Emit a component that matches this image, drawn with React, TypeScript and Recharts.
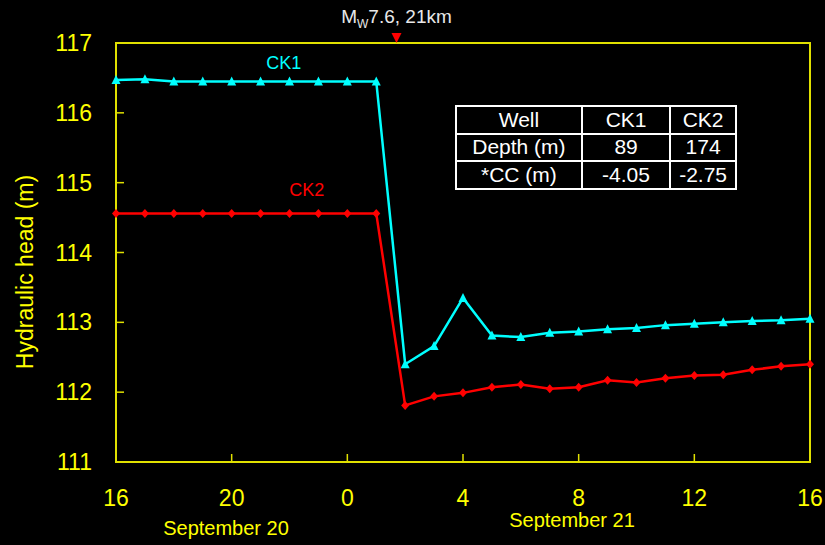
import { LineChart, Line, XAxis, YAxis, ReferenceArea, ReferenceDot } from "recharts";

// hours since 16:00 on September 20
const hours = [0, 1, 2, 3, 4, 5, 6, 7, 8, 9, 10, 11, 12, 13, 14, 15, 16, 17, 18, 19, 20, 21, 22, 23, 24];
const ck1 = [116.47, 116.48, 116.45, 116.45, 116.45, 116.45, 116.45, 116.45, 116.45, 116.45, 112.4, 112.66, 113.35, 112.81, 112.79, 112.85, 112.87, 112.9, 112.92, 112.96, 112.98, 113.0, 113.02, 113.03, 113.05];
const ck2 = [114.56, 114.56, 114.56, 114.56, 114.56, 114.56, 114.56, 114.56, 114.56, 114.56, 111.81, 111.94, 111.99, 112.07, 112.11, 112.05, 112.07, 112.17, 112.14, 112.2, 112.24, 112.25, 112.32, 112.37, 112.4];
const xTicks = [0, 4, 8, 12, 16, 20, 24];
const yTicks = [111, 112, 113, 114, 115, 116, 117];
const quakeHour = 9.7;
const tableRows = [
  ["Well", "CK1", "CK2"],
  ["Depth (m)", "89", "174"],
  ["*CC (m)", "-4.05", "-2.75"],
];

const data = hours.map((h, i) => ({ h, ck1: ck1[i], ck2: ck2[i] }));

const YELLOW = "#ffff00";
const AXIS = "#e0e000";
const FONT = "'Liberation Sans', Arial, sans-serif";
const PLOT_LEFT = 116;
const PLOT_BOTTOM = 462;

const YTick = ({ y, payload }: any) => (
  <g>
    <line x1={PLOT_LEFT} x2={PLOT_LEFT + 8} y1={y} y2={y} stroke={AXIS} strokeWidth={1.5} />
    <text x={92} y={y} textAnchor="end" dominantBaseline="central" fill={YELLOW} fontSize={23} fontFamily={FONT}>
      {payload.value}
    </text>
  </g>
);

const XTick = ({ x, payload }: any) => (
  <g>
    <line x1={x} x2={x} y1={PLOT_BOTTOM} y2={PLOT_BOTTOM - 8} stroke={AXIS} strokeWidth={1.5} />
    <text x={x} y={PLOT_BOTTOM + 36} textAnchor="middle" dominantBaseline="central" fill={YELLOW} fontSize={23} fontFamily={FONT}>
      {(16 + payload.value) % 24}
    </text>
  </g>
);

const Triangle = ({ cx, cy, index }: any) => (
  <polygon key={`t${index}`} points={`${cx},${cy - 5} ${cx + 4.5},${cy + 4} ${cx - 4.5},${cy + 4}`} fill="#00ffff" />
);

const Diamond = ({ cx, cy, index }: any) => (
  <polygon key={`d${index}`} points={`${cx},${cy - 4.5} ${cx + 4},${cy} ${cx},${cy + 4.5} ${cx - 4},${cy}`} fill="#ff0000" />
);

const Quake = ({ cx, cy }: any) => (
  <g>
    <polygon points={`${cx - 5},${cy - 10} ${cx + 5},${cy - 10} ${cx},${cy}`} fill="#ff0000" />
    <text x={cx} y={cy - 20} textAnchor="middle" fill="#e8e8e8" fontSize={19} fontFamily={FONT}>
      <tspan>M</tspan>
      <tspan fontSize={12} dy={5}>W</tspan>
      <tspan dy={-5}>7.6, 21km</tspan>
    </text>
  </g>
);

const seriesLabel = (text: string, color: string) => ({ cx, cy }: any) => (
  <text x={cx} y={cy} textAnchor="middle" dominantBaseline="central" fill={color} fontSize={18} fontFamily={FONT}>
    {text}
  </text>
);

export default function App() {
  return (
    <div style={{ position: "absolute", left: 0, top: 0, width: 825, height: 545, background: "#000", fontFamily: FONT }}>
      <LineChart width={825} height={545} data={data} margin={{ top: 43, right: 15, bottom: 53, left: 0 }}>
        <XAxis dataKey="h" type="number" domain={[0, 24]} ticks={xTicks} height={30} axisLine={false} tickLine={false} tick={<XTick />} interval={0} />
        <YAxis type="number" domain={[111, 117]} ticks={yTicks} width={116} axisLine={false} tickLine={false} tick={<YTick />} interval={0} />
        <ReferenceArea x1={0} x2={24} y1={111} y2={117} fill="none" stroke={AXIS} strokeWidth={2} />
        <Line dataKey="ck1" stroke="#00ffff" strokeWidth={2.5} dot={Triangle} activeDot={false} isAnimationActive={false} />
        <Line dataKey="ck2" stroke="#ff0000" strokeWidth={2.5} dot={Diamond} activeDot={false} isAnimationActive={false} />
        <ReferenceDot x={5.8} y={116.71} ifOverflow="visible" shape={seriesLabel("CK1", "#00ffff")} />
        <ReferenceDot x={6.6} y={114.89} ifOverflow="visible" shape={seriesLabel("CK2", "#ff0000")} />
        <ReferenceDot x={quakeHour} y={117} ifOverflow="visible" shape={Quake} />
      </LineChart>
      <div style={{ position: "absolute", left: 25, top: 272, transform: "translate(-50%, -50%) rotate(-90deg)", color: YELLOW, fontSize: 23, whiteSpace: "nowrap" }}>
        Hydraulic head (m)
      </div>
      <div style={{ position: "absolute", left: 226, top: 528, transform: "translate(-50%, -50%)", color: YELLOW, fontSize: 20, whiteSpace: "nowrap" }}>
        September 20
      </div>
      <div style={{ position: "absolute", left: 572, top: 520, transform: "translate(-50%, -50%)", color: YELLOW, fontSize: 20, whiteSpace: "nowrap" }}>
        September 21
      </div>
      <table
        style={{
          position: "absolute",
          left: 455,
          top: 105,
          width: 282,
          height: 85,
          borderCollapse: "collapse",
          color: "#fff",
          fontSize: 21,
          textAlign: "center",
          fontFamily: FONT,
        }}
      >
        <colgroup>
          <col style={{ width: 127 }} />
          <col style={{ width: 89 }} />
          <col style={{ width: 66 }} />
        </colgroup>
        <tbody>
          {tableRows.map((row) => (
            <tr key={row[0]}>
              {row.map((cell, j) => (
                <td key={j} style={{ border: "2px solid #fff", padding: 0, lineHeight: "24px" }}>
                  {cell}
                </td>
              ))}
            </tr>
          ))}
        </tbody>
      </table>
    </div>
  );
}
